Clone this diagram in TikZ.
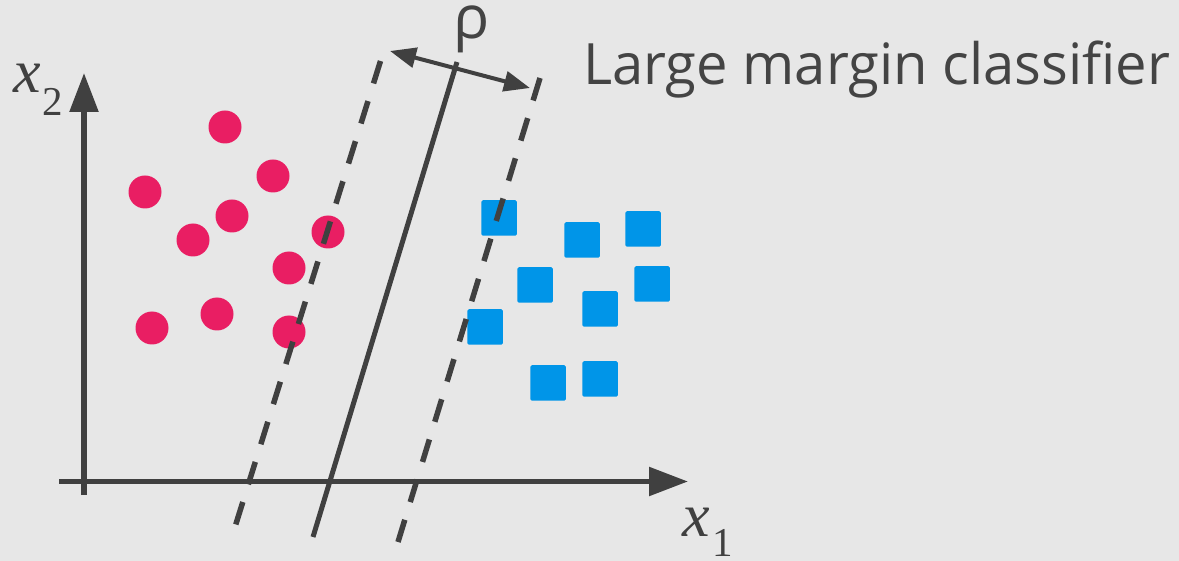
\documentclass[tikz,border=0pt]{standalone}
\usepackage{fontspec}
\usetikzlibrary{arrows.meta}
\newfontfamily\titlefont[FakeStretch=0.985]{Open Sans}
\newfontfamily\rhofont{Open Sans}
\newfontfamily\tmsfont{Liberation Serif}
\definecolor{bg}{HTML}{E7E7E7}
\definecolor{ink}{HTML}{404040}
\definecolor{txt}{HTML}{444444}
\definecolor{dotpink}{HTML}{E91E63}
\definecolor{sqblue}{HTML}{0095E8}
\begin{document}
\begin{tikzpicture}[x=1pt,y=-1pt,
  dot/.style={circle,fill=dotpink,minimum size=33pt,inner sep=0pt},
  sq/.style={rectangle,fill=sqblue,minimum size=35.5pt,inner sep=0pt,rounded corners=1.5pt},
  axis/.style={ink,line width=5.5pt,-{Triangle[length=39pt,width=28pt]}},
  sep/.style={ink,line width=5pt},
  marg/.style={ink,line width=5.5pt,dash pattern=on 23.5pt off 18.5pt},
  mathx/.style={inner sep=0pt,anchor=base west,font=\tmsfont\itshape\fontsize{62}{62}\selectfont,text=ink},
  sub/.style={inner sep=0pt,anchor=base west,font=\tmsfont\fontsize{41}{41}\selectfont,text=ink}]
\fill[bg] (0,0) rectangle (1179,561);
\useasboundingbox (0,0) rectangle (1179,561);
% points
\node[dot] (c1) at (225,127) {};
\node[dot] (c2) at (273,176) {};
\node[dot] (c3) at (145,192) {};
\node[dot] (c4) at (232,216) {};
\node[dot] (c5) at (193,240) {};
\node[dot] (c6) at (328,232) {};
\node[dot] (c7) at (289,268) {};
\node[dot] (c8) at (152,328) {};
\node[dot] (c9) at (217,314) {};
\node[dot] (c10) at (289,332) {};
\node[sq] (s1) at (499,218) {};
\node[sq] (s2) at (582,240) {};
\node[sq] (s3) at (643,229) {};
\node[sq] (s4) at (535,285) {};
\node[sq] (s5) at (652,284) {};
\node[sq] (s6) at (600,309) {};
\node[sq] (s7) at (485,327) {};
\node[sq] (s8) at (548,383) {};
\node[sq] (s9) at (600,379) {};
% axes
\coordinate (xa0) at (59,481.5);
\coordinate (xa1) at (688,481.5);
\coordinate (ya0) at (84,495);
\coordinate (ya1) at (84,73);
\draw[axis] (xa0) -- (xa1);
\draw[axis] (ya0) -- (ya1);
% separating lines
\coordinate (m0) at (457,62);
\coordinate (m1) at (313,537);
\coordinate (l0) at (380.5,61);
\coordinate (l1) at (235,527);
\coordinate (r0) at (540,78);
\coordinate (r1) at (398,542);
\draw[sep] (m0) -- (m1);
\draw[marg] (l0) -- (l1);
\draw[marg] (r0) -- (r1);
% margin arrow
\coordinate (p0) at (390,51);
\coordinate (p1) at (530,88);
\draw[ink,line width=4pt,{Triangle[length=26pt,width=20pt]}-{Triangle[length=26pt,width=20pt]}] (p0) -- (p1);
% labels
\node[inner sep=0pt,anchor=base,text=txt,font=\rhofont\fontsize{60}{60}\selectfont] (rho) at (472,39) {ρ};
\node[inner sep=0pt,anchor=base west,text=txt,font=\titlefont\fontsize{57}{57}\selectfont] (title) at (583,85) {Large margin classifier};
\node[mathx] (x2) at (13,93) {x};
\node[sub] (x2s) at (42,116) {2};
\node[mathx] (x1) at (682,536) {x};
\node[sub] (x1s) at (712,556) {1};
\end{tikzpicture}
\end{document}
